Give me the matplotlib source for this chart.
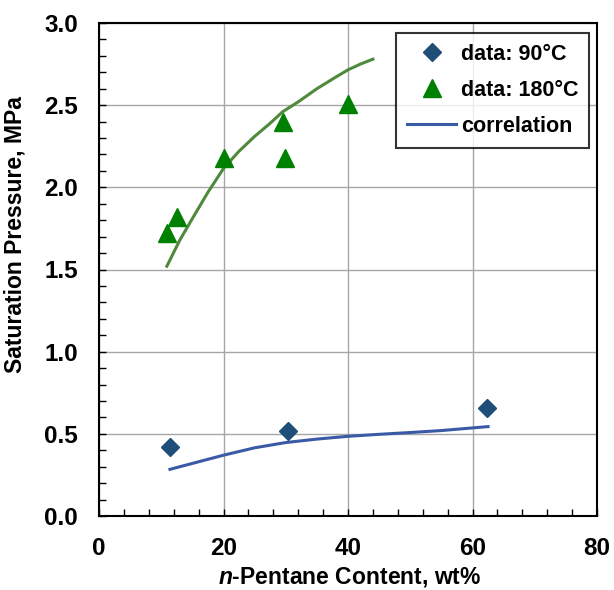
import numpy as np
import matplotlib
matplotlib.use("Agg")
import matplotlib.pyplot as plt
from matplotlib.ticker import MultipleLocator

plt.rcParams['font.family'] = ['Liberation Sans', 'DejaVu Sans']
plt.rcParams['font.weight'] = 'bold'
plt.rcParams['mathtext.fontset'] = 'custom'
plt.rcParams['mathtext.it'] = 'Liberation Sans:italic:bold'
plt.rcParams['mathtext.rm'] = 'Liberation Sans:bold'

# dados
x_90 = [11.4, 30.3, 62.4]
y_90 = [0.42, 0.517, 0.66]

x_180 = [10.9, 12.5, 20.1, 29.5, 29.9, 39.95]
y_180 = [1.72, 1.82, 2.18, 2.40, 2.18, 2.51]

# curvas de correlação
x_corr_90 = [11.4, 15, 20, 25, 30, 35, 40, 45, 50, 55, 62.5]
y_corr_90 = [0.284, 0.32, 0.37, 0.415, 0.447, 0.468, 0.485, 0.497, 0.508, 0.52, 0.544]

x_corr_180 = [10.9, 13, 15, 17.5, 20, 22.5, 25, 27.5, 29.5, 32, 35, 38, 40, 42, 44.0]
y_corr_180 = [1.52, 1.68, 1.81, 1.97, 2.115, 2.22, 2.31, 2.39, 2.46, 2.52, 2.60, 2.67, 2.715, 2.75, 2.78]

fig = plt.figure(figsize=(6.14, 5.90), dpi=100)
ax = fig.add_axes([99/614, 74/590, 498/614, 493/590])

ax.grid(True, which='major', color='#a6a6a6', linewidth=1.0)
ax.set_axisbelow(True)

ax.plot(x_corr_180, y_corr_180, '-', color='#4f8a3c', linewidth=2.2, zorder=3)
ax.plot(x_corr_90, y_corr_90, '-', color='#3a5aa6', linewidth=2.2, zorder=3)
l1, = ax.plot(x_90, y_90, 'D', color='#1f4e79', markersize=9.5, linestyle='none', zorder=4,
              label='data: 90°C')
l2, = ax.plot(x_180, y_180, '^', color='#008000', markersize=12.5, linestyle='none', zorder=4,
              label='data: 180°C')
l3, = ax.plot([], [], '-', color='#3a5aa6', linewidth=2.2, label='correlation')

ax.set_xlim(0, 80)
ax.set_ylim(0, 3.0)
ax.xaxis.set_major_locator(MultipleLocator(20))
ax.xaxis.set_minor_locator(MultipleLocator(4))
ax.yaxis.set_major_locator(MultipleLocator(0.5))
ax.yaxis.set_minor_locator(MultipleLocator(0.1))
ax.yaxis.set_major_formatter(matplotlib.ticker.FormatStrFormatter('%.1f'))

ax.tick_params(which='both', direction='in', top=False, right=False, width=1.0)
ax.tick_params(which='major', length=5, labelsize=17.5, pad=15)
ax.tick_params(which='minor', length=5)
for s in ax.spines.values():
    s.set_linewidth(1.5)

ax.set_xlabel('$n$-Pentane Content, wt%', fontsize=16.5, fontweight='bold')
ax.set_ylabel('Saturation Pressure, MPa', fontsize=16.5, fontweight='bold')
ax.xaxis.set_label_coords(0.504, -0.1)
ax.yaxis.set_label_coords(-0.145, 0.57)

leg = ax.legend(handles=[l1, l2, l3], loc='upper right', bbox_to_anchor=(0.984, 0.980),
                borderaxespad=0, fontsize=15.5, frameon=True, fancybox=False,
                handlelength=2.3, labelspacing=0.7, borderpad=0.5, handletextpad=0.2)
leg.get_frame().set_edgecolor('black')
leg.get_frame().set_linewidth(1.5)

plt.savefig('out.png', dpi=100)
